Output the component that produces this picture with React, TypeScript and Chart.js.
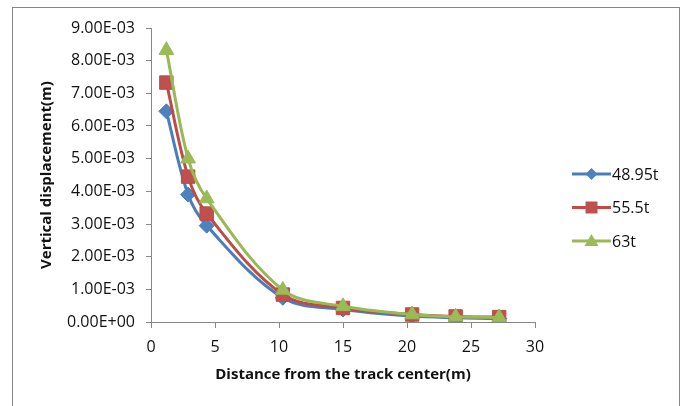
import React, { useEffect, useRef } from "react";
import { Chart, registerables } from "chart.js";

Chart.register(...registerables);

const distances = [1.2, 2.9, 4.35, 10.3, 15, 20.4, 23.8, 27.2];
const series48_95t = [6.45e-3, 3.9e-3, 2.95e-3, 0.74e-3, 0.38e-3, 0.18e-3, 0.13e-3, 0.1e-3];
const series55_5t = [7.33e-3, 4.45e-3, 3.32e-3, 0.84e-3, 0.43e-3, 0.23e-3, 0.17e-3, 0.15e-3];
const series63t = [8.32e-3, 5.0e-3, 3.78e-3, 0.98e-3, 0.48e-3, 0.23e-3, 0.16e-3, 0.14e-3];
const seriesLabels = ["48.95t", "55.5t", "63t"];
const xTitle = "Distance from the track center(m)";
const yTitle = "Vertical displacement(m)";

const FONT = "'Open Sans', Lato, sans-serif";
const AXIS = "#868686";

function fmtExp(v: number): string {
  const [m, e] = v.toExponential(2).split("e");
  const n = parseInt(e, 10);
  const s = n < 0 ? "-" : "+";
  const a = String(Math.abs(n)).padStart(2, "0");
  return `${m}E${s}${a}`;
}

function drawMarker(ctx: CanvasRenderingContext2D, style: string, x: number, y: number, color: string) {
  ctx.save();
  ctx.fillStyle = color;
  ctx.beginPath();
  if (style === "rectRot") {
    const r = 6;
    ctx.moveTo(x, y - r);
    ctx.lineTo(x + r, y);
    ctx.lineTo(x, y + r);
    ctx.lineTo(x - r, y);
  } else if (style === "rect") {
    const h = 6;
    ctx.rect(x - h, y - h, 2 * h, 2 * h);
  } else {
    const r = 7;
    ctx.moveTo(x, y - r);
    ctx.lineTo(x + r, y + r * 0.7);
    ctx.lineTo(x - r, y + r * 0.7);
  }
  ctx.closePath();
  ctx.fill();
  ctx.restore();
}

const decorPlugin = {
  id: "decor",
  beforeDraw(chart: any) {
    const ctx = chart.ctx as CanvasRenderingContext2D;
    ctx.save();
    ctx.fillStyle = "#fff";
    ctx.fillRect(0, 0, chart.width, chart.height);
    ctx.strokeStyle = AXIS;
    ctx.lineWidth = 1;
    ctx.strokeRect(12.5, 7.5, 667, 420);
    ctx.restore();
  },
  afterDraw(chart: any) {
    const ctx = chart.ctx as CanvasRenderingContext2D;
    const ys = [174, 207.5, 241];
    chart.data.datasets.forEach((ds: any, i: number) => {
      const y = ys[i];
      ctx.save();
      ctx.strokeStyle = ds.borderColor;
      ctx.lineWidth = 3;
      ctx.beginPath();
      ctx.moveTo(572, y);
      ctx.lineTo(611, y);
      ctx.stroke();
      ctx.restore();
      drawMarker(ctx, ds.pointStyle, 591.5, y, ds.pointBackgroundColor);
      ctx.save();
      ctx.fillStyle = "#111";
      ctx.font = `16px ${FONT}`;
      ctx.textBaseline = "middle";
      ctx.textAlign = "left";
      ctx.fillText(ds.label, 612, y + 1);
      ctx.restore();
    });
  },
};

export default function App() {
  const ref = useRef<HTMLCanvasElement | null>(null);

  useEffect(() => {
    document.body.style.margin = "0";
    const canvas = ref.current!;
    const mk = (ys: number[]) => distances.map((x, i) => ({ x, y: ys[i] }));
    const chart = new Chart(canvas, {
      type: "scatter",
      data: {
        datasets: [
          {
            label: seriesLabels[0],
            data: mk(series48_95t),
            showLine: true,
            borderColor: "#4A7EBB",
            backgroundColor: "#4F81BD",
            pointBackgroundColor: "#4F81BD",
            pointBorderColor: "#4A7EBB",
            pointBorderWidth: 1,
            pointStyle: "rectRot",
            pointRadius: 7.5,
            borderWidth: 3,
            tension: 0.35,
            order: 2,
          } as any,
          {
            label: seriesLabels[1],
            data: mk(series55_5t),
            showLine: true,
            borderColor: "#BE4B48",
            backgroundColor: "#C0504D",
            pointBackgroundColor: "#C0504D",
            pointBorderColor: "#BE4B48",
            pointBorderWidth: 1,
            pointStyle: "rect",
            pointRadius: 9.5,
            borderWidth: 3,
            tension: 0.35,
            order: 1,
          } as any,
          {
            label: seriesLabels[2],
            data: mk(series63t),
            showLine: true,
            borderColor: "#98B954",
            backgroundColor: "#9BBB59",
            pointBackgroundColor: "#9BBB59",
            pointBorderColor: "#98B954",
            pointBorderWidth: 1,
            pointStyle: "triangle",
            pointRadius: 8.5,
            borderWidth: 3,
            tension: 0.35,
            order: 0,
          } as any,
        ],
      },
      options: {
        animation: false,
        responsive: false,
        maintainAspectRatio: false,
        layout: { padding: { top: 28, right: 148, bottom: 0, left: 0 } },
        plugins: {
          legend: { display: false },
          tooltip: { enabled: false },
        },
        scales: {
          x: {
            type: "linear",
            min: 0,
            max: 30,
            ticks: {
              stepSize: 5,
              color: "#111",
              font: { family: FONT, size: 16 },
              padding: 10,
            },
            grid: {
              display: true,
              drawOnChartArea: false,
              drawTicks: true,
              tickLength: 6,
              color: AXIS,
            },
            border: { color: AXIS, width: 1 },
            title: {
              display: true,
              text: xTitle,
              color: "#111",
              font: { family: FONT, size: 15, weight: "bold" },
              padding: { top: 0, bottom: 22 },
            },
            afterFit: (s: any) => {
              s.height = 84;
            },
          },
          y: {
            type: "linear",
            min: 0,
            max: 0.009,
            ticks: {
              stepSize: 0.001,
              color: "#111",
              font: { family: FONT, size: 16 },
              padding: 11,
              callback: (v: any) => fmtExp(Number(v)),
            },
            grid: {
              display: true,
              drawOnChartArea: false,
              drawTicks: true,
              tickLength: 5,
              color: AXIS,
            },
            border: { color: AXIS, width: 1 },
            title: {
              display: true,
              text: yTitle,
              color: "#111",
              font: { family: FONT, size: 15, weight: "bold" },
              padding: { top: 38, bottom: 0 },
            },
            afterFit: (s: any) => {
              s.width = 151;
            },
          },
        },
      },
      plugins: [decorPlugin],
    });
    return () => chart.destroy();
  }, []);

  return (
    <div style={{ width: 683, height: 406, position: "relative", overflow: "hidden", background: "#fff" }}>
      <canvas ref={ref} width={683} height={406} style={{ display: "block", width: 683, height: 406 }} />
    </div>
  );
}
